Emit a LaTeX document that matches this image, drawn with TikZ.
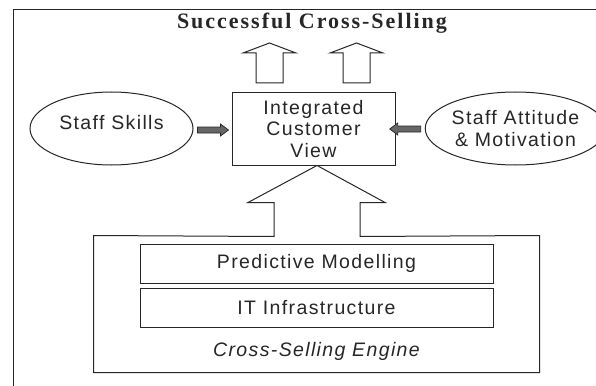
\documentclass[tikz,border=0pt]{standalone}
\usepackage{fontspec}
\setmainfont{Liberation Sans}
\newfontfamily\titlefont{Liberation Serif}
\usetikzlibrary{shapes.geometric,calc}
\begin{document}
\begin{tikzpicture}[x=1pt,y=-1pt,line width=1pt,
  every node/.style={text=black!85},
  lbl/.style={font=\fontsize{19.5}{21.5}\selectfont\addfontfeature{LetterSpace=7}, align=center, inner sep=0pt},
  boxed/.style={lbl, draw=black!85},
  oval/.style={lbl, draw=black!85, ellipse, minimum width=163pt, minimum height=73pt},
  fatarrow/.style={draw=black!85, fill=black!60, line width=0.7pt, line join=miter},
  hollowarrow/.style={draw=black!85, fill=white, line join=miter}]
\useasboundingbox (0,0) rectangle (596,385);
% outer frame
\draw[black!85] (13,395) -- (13,10) -- (605,10);
% title
\node[inner sep=0pt, font=\titlefont\bfseries\fontsize{22}{24}\selectfont\addfontfeature{LetterSpace=9}] (title) at (312,23) {Successful Cross-Selling};
% central box
\node[boxed, minimum width=163pt, minimum height=72pt] (icv) at (313.5,129) {Integrated\\Customer\\View};
% top hollow arrows (pointing up to the title)
\coordinate (u1) at (269.5,83);
\coordinate (u2) at (356.5,83);
\foreach \u in {u1,u2}{
  \draw[hollowarrow] ($(\u)+(-13.5,0)$) -- ($(\u)+(-13.5,-30)$) -- ($(\u)+(-26.5,-30)$) -- ($(\u)+(0,-40)$)
    -- ($(\u)+(26.5,-30)$) -- ($(\u)+(13.5,-30)$) -- ($(\u)+(13.5,0)$) -- cycle;
}
% ellipses
\node[oval, text height=14pt, text depth=12pt] (skills) at (111.5,128.5) {Staff Skills};
\node[oval] (attitude) at (515.5,128.5) {Staff Attitude\\\& Motivation};
% fat arrows (from ellipses to the box)
\coordinate (s1) at ($(skills.east)+(4,1.5)$);
\draw[fatarrow] ($(s1)+(0,-3)$) -- ($(s1)+(23,-3)$) -- ($(s1)+(23,-6)$) -- ($(s1)+(31,0)$)
  -- ($(s1)+(23,6)$) -- ($(s1)+(23,3)$) -- ($(s1)+(0,3)$) -- cycle;
\coordinate (s2) at ($(attitude.west)+(-4,0.5)$);
\draw[fatarrow] ($(s2)+(0,-3)$) -- ($(s2)+(-23,-3)$) -- ($(s2)+(-23,-6)$) -- ($(s2)+(-31,0)$)
  -- ($(s2)+(-23,6)$) -- ($(s2)+(-23,3)$) -- ($(s2)+(0,3)$) -- cycle;
% engine with the big arrow to the box
\node[minimum width=445pt, minimum height=136pt, inner sep=0pt] (engine) at (316.5,304) {};
\coordinate (tip) at ($(icv.south)+(3.5,0)$);
\draw[black!85, line join=miter] (engine.south west) -- (engine.north west) -- ($(tip)+(-43,71)$) -- ($(tip)+(-43,37)$)
  -- ($(tip)+(-69,37)$) -- (tip) -- ($(tip)+(68,37)$) -- ($(tip)+(43,37)$) -- ($(tip)+(43,71)$)
  -- (engine.north east) -- (engine.south east) -- cycle;
\node[boxed, minimum width=353pt, minimum height=39pt] (pm) at (316.5,263.5) {Predictive Modelling};
\node[boxed, minimum width=353pt, minimum height=39pt] (it) at (316.5,307.5) {IT Infrastructure};
\node[lbl, font=\fontsize{19.5}{21}\selectfont\itshape\addfontfeature{LetterSpace=7}] (englbl) at (316.5,351) {Cross-Selling Engine};
\end{tikzpicture}
\end{document}
